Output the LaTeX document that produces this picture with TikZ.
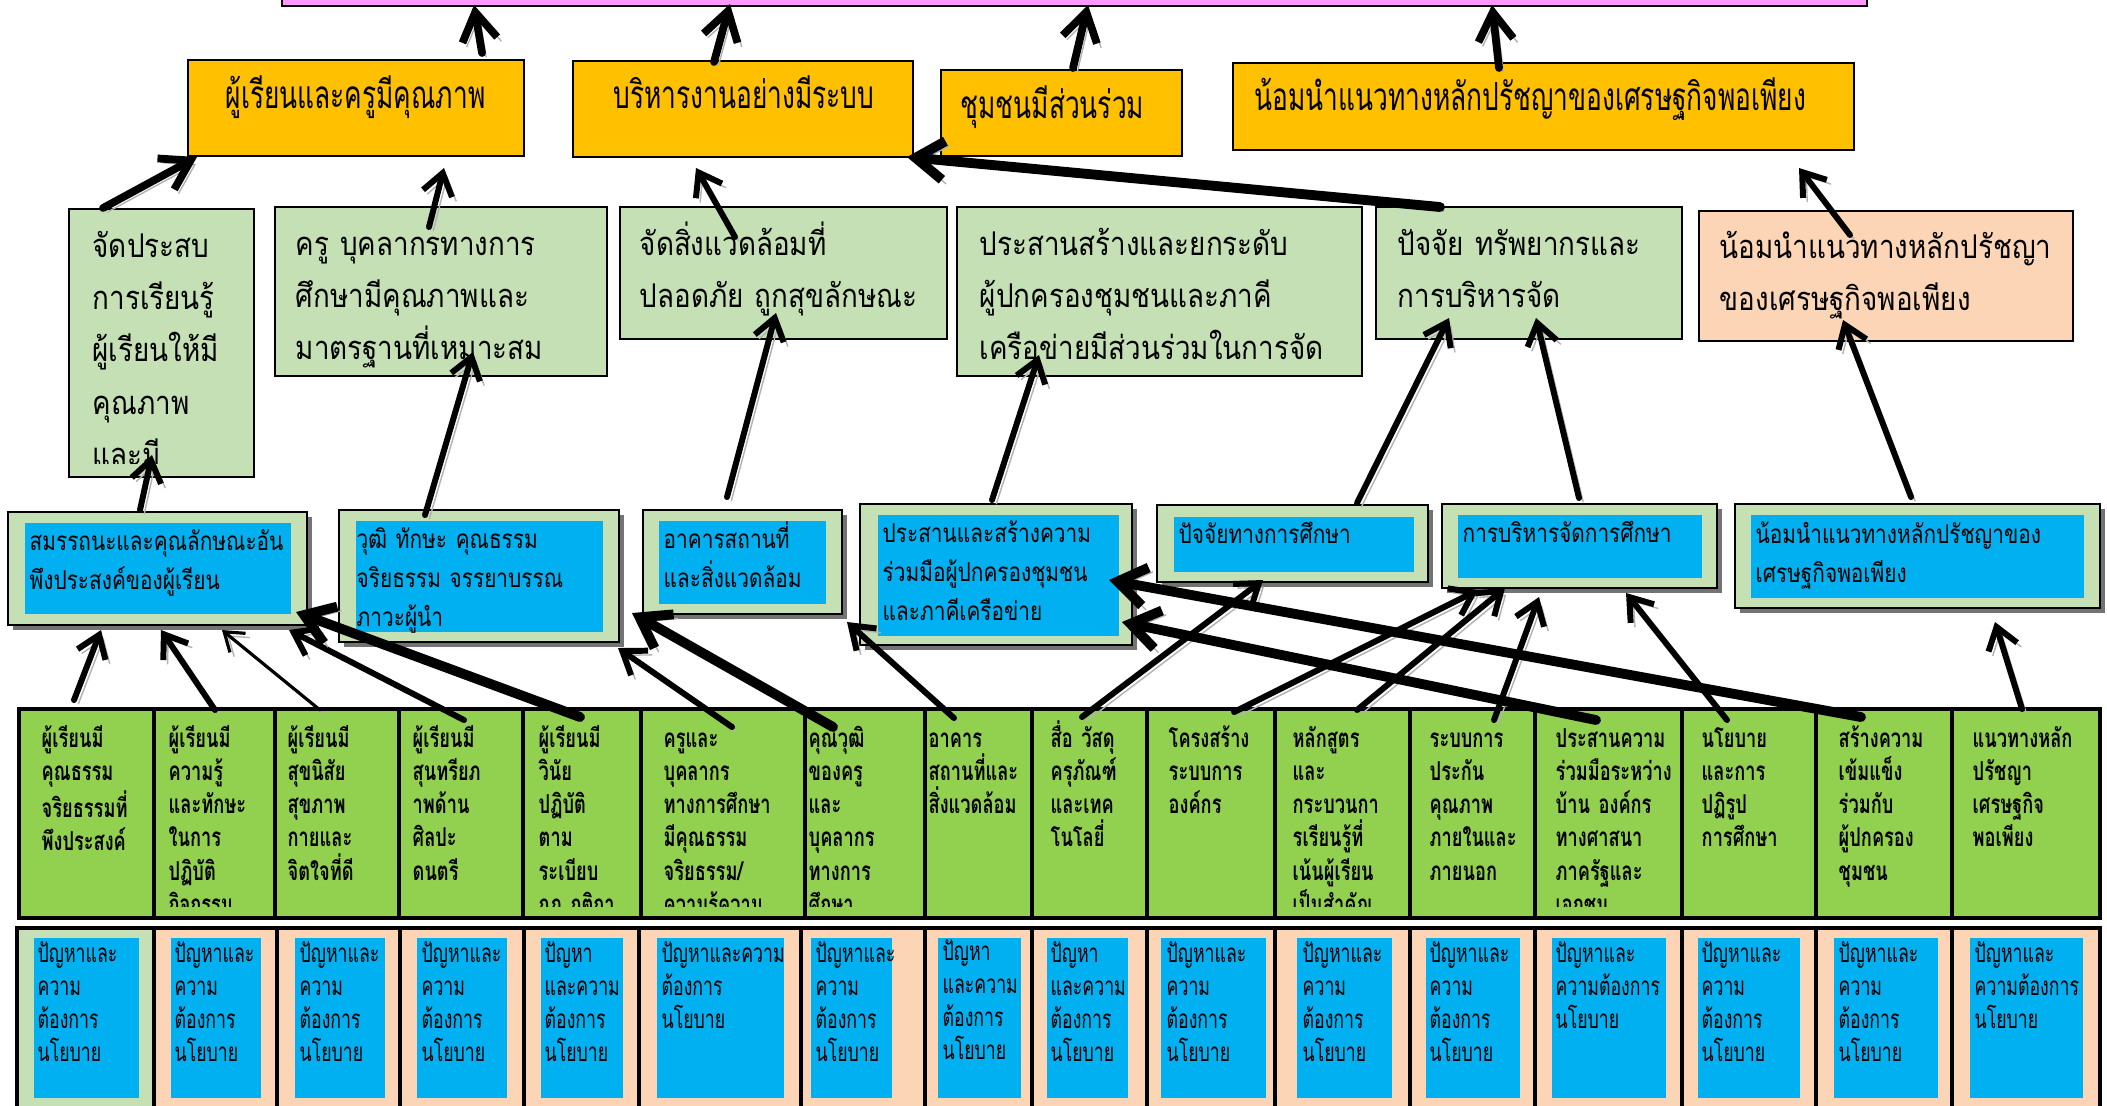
\documentclass[tikz,border=0pt]{standalone}
\usepackage{fontspec}
\newfontfamily\fntO[Script=Thai,FakeStretch=0.68]{Loma}
\newfontfamily\fntG[Script=Thai,FakeStretch=0.85]{Loma}
\newfontfamily\fntB[Script=Thai,FakeStretch=0.8]{Loma}
\newfontfamily\fntC[Script=Thai,FakeStretch=0.7]{Loma}
\newfontfamily\fntD[Script=Thai,FakeStretch=0.68]{Loma}
\usetikzlibrary{arrows.meta,calc,shadows}
\definecolor{pinkc}{HTML}{FF99FF}
\definecolor{orangec}{HTML}{FFC000}
\definecolor{lgreen}{HTML}{C5E0B4}
\definecolor{peach}{HTML}{FBD5B5}
\definecolor{bluec}{HTML}{00B0F0}
\definecolor{gcol}{HTML}{92D050}
\newcommand\bx[6]{\node[#1, anchor=north west, inner sep=0pt, outer sep=0pt, minimum width={(#5-#3)*0.01cm}, minimum height={(#6-#4)*0.01cm}] (#2) at (#3,#4) {};}
\tikzset{
  bxline/.style={draw=black, line width=0.7pt},
  obox/.style={bxline, fill=orangec},
  pkbox/.style={bxline, fill=pinkc},
  gbox/.style={bxline, fill=lgreen},
  pbox/.style={bxline, fill=peach},
  fbox/.style={bxline, fill=lgreen, line width=0.8pt, drop shadow={shadow xshift=1.5pt,shadow yshift=-1.5pt,fill=black,opacity=0.55}},
  ibox/.style={fill=bluec},
  colbox/.style={draw=black, line width=1pt, fill=gcol},
  rgbox/.style={draw=black, line width=1pt, fill=lgreen},
  rpbox/.style={draw=black, line width=1pt, fill=peach},
  txbase/.style={anchor=base west, inner sep=0pt, text width=7cm, align=left},
  txo/.style={txbase, font=\fntO\fontsize{11}{14}\selectfont},
  txg/.style={txbase, font=\fntG\fontsize{9.3}{14.9}\selectfont},
  txb/.style={txbase, font=\fntB\fontsize{7.4}{11.2}\selectfont},
  txc/.style={txbase, font=\fntC\bfseries\fontsize{7.4}{9.47}\selectfont},
  txd/.style={txbase, font=\fntD\fontsize{7.4}{9.47}\selectfont},
  shadowed/.style={line cap=round, preaction={draw=black!30, transform canvas={xshift=1.2pt,yshift=-1.2pt}}},
  conn/.style={shadowed, line width=1.7pt, -{Straight Barb[length=6pt,width=8.5pt]}},
  connbig/.style={shadowed, line width=2.2pt, -{Straight Barb[length=8pt,width=10pt]}},
  connthick/.style={shadowed, line width=2.8pt, -{Straight Barb[length=8pt,width=11pt]}},
  connthin/.style={shadowed, line width=0.9pt, -{Straight Barb[length=5pt,width=7pt]}},
}
\begin{document}
\begin{tikzpicture}[x=0.01cm,y=-0.01cm]
\useasboundingbox (0,0) rectangle (2107,1105);
\fill[white] (0,0) rectangle (2107,1105);

% top pink box
\bx{pkbox}{pk}{282}{-40}{1867}{6}
% orange row
\bx{obox}{o1}{188}{60}{524}{156}
\bx{obox}{o2}{573}{61}{913}{157}
\bx{obox}{o3}{941}{70}{1182}{156}
\bx{obox}{o4}{1233}{63}{1854}{150}
\node[txo] (to1) at (225,108) {ผู้เรียนและครูมีคุณภาพ};
\node[txo] (to2) at (613,108) {บริหารงานอย่างมีระบบ};
\node[txo] (to3) at (960,118) {ชุมชนมีส่วนร่วม};
\node[txo] (to4) at (1254,110) {น้อมนำแนวทางหลักปรัชญาของเศรษฐกิจพอเพียง};

% second row
\bx{gbox}{g1}{69}{209}{254}{477}
\bx{gbox}{g2}{275}{207}{607}{376}
\bx{gbox}{g3}{620}{207}{947}{339}
\bx{gbox}{g4}{957}{207}{1362}{376}
\bx{gbox}{g5}{1376}{207}{1682}{339}
\bx{pbox}{p1}{1699}{211}{2073}{341}
\begin{scope}
\clip (69,209) rectangle (254,463);
\node[txg] (tg1) at (92,257) {จัดประสบ\\การเรียนรู้\\ผู้เรียนให้มี\\คุณภาพ\\และมี};
\end{scope}
\node[txg] (tg2) at (295,255) {ครู บุคลากรทางการ\\ศึกษามีคุณภาพและ\\มาตรฐานที่เหมาะสม};
\node[txg] (tg3) at (639,255) {จัดสิ่งแวดล้อมที่\\ปลอดภัย ถูกสุขลักษณะ};
\node[txg] (tg4) at (979,255) {ประสานสร้างและยกระดับ\\ผู้ปกครองชุมชนและภาคี\\เครือข่ายมีส่วนร่วมในการจัด};
\node[txg] (tg5) at (1397,255) {ปัจจัย ทรัพยากรและ\\การบริหารจัด};
\node[txg] (tp1) at (1719,258) {น้อมนำแนวทางหลักปรัชญา\\ของเศรษฐกิจพอเพียง};

% third row
\bx{fbox}{b1}{8}{512}{307}{625}
\bx{ibox}{ib1}{25}{523}{291}{614}
\bx{fbox}{b2}{339}{510}{619}{642}
\bx{ibox}{ib2}{356}{521}{603}{632}
\bx{fbox}{b3}{643}{510}{842}{614}
\bx{ibox}{ib3}{659}{521}{826}{604}
\bx{fbox}{b4}{860}{504}{1132}{645}
\bx{ibox}{ib4}{878}{515}{1119}{636}
\bx{fbox}{b5}{1157}{505}{1428}{582}
\bx{ibox}{ib5}{1174}{517}{1414}{572}
\bx{fbox}{b6}{1442}{504}{1717}{588}
\bx{ibox}{ib6}{1458}{515}{1702}{578}
\bx{fbox}{b7}{1735}{504}{2100}{608}
\bx{ibox}{ib7}{1751}{515}{2084}{598}
\node[txb] (tb1) at (29,550) {สมรรถนะและคุณลักษณะอัน\\พึงประสงค์ของผู้เรียน};
\node[txb] (tb2) at (356,548) {วุฒิ ทักษะ คุณธรรม\\จริยธรรม จรรยาบรรณ\\ภาวะผู้นำ};
\node[txb] (tb3) at (663,548) {อาคารสถานที่\\และสิ่งแวดล้อม};
\node[txb] (tb4) at (882,542) {ประสานและสร้างความ\\ร่วมมือผู้ปกครองชุมชน\\และภาคีเครือข่าย};
\node[txb] (tb5) at (1178,543) {ปัจจัยทางการศึกษา};
\node[txb] (tb6) at (1462,542) {การบริหารจัดการศึกษา};
\node[txb] (tb7) at (1755,543) {น้อมนำแนวทางหลักปรัชญาของ\\เศรษฐกิจพอเพียง};

% fourth row: green columns
\foreach \i/\a/\b in {1/19/154,2/154/275,3/275/399,4/399/523,5/523/641,6/641/805,7/805/925,8/925/1032,9/1032/1147,10/1147/1275,11/1275/1410,12/1410/1535,13/1535/1682,14/1682/1816,15/1816/1952,16/1952/2100}
  {\bx{colbox}{c\i}{\a}{709}{\b}{918}}
\begin{scope}
\clip (19,709) rectangle (2100,906);
\node[txc] (tc1) at (41,747) {ผู้เรียนมี\\คุณธรรม\\จริยธรรมที่\\พึงประสงค์};
\node[txc] (tc2) at (168,747) {ผู้เรียนมี\\ความรู้\\และทักษะ\\ในการ\\ปฏิบัติ\\กิจกรรม};
\node[txc] (tc3) at (287,747) {ผู้เรียนมี\\สุขนิสัย\\สุขภาพ\\กายและ\\จิตใจที่ดี};
\node[txc] (tc4) at (412,747) {ผู้เรียนมี\\สุนทรียภ\\าพด้าน\\ศิลปะ\\ดนตรี};
\node[txc] (tc5) at (538,747) {ผู้เรียนมี\\วินัย\\ปฏิบัติ\\ตาม\\ระเบียบ\\กฎ กติกา};
\node[txc] (tc6) at (663,747) {ครูและ\\บุคลากร\\ทางการศึกษา\\มีคุณธรรม\\จริยธรรม/\\ความรู้ความ};
\node[txc] (tc7) at (808,747) {คุณวุฒิ\\ของครู\\และ\\บุคลากร\\ทางการ\\ศึกษา};
\node[txc] (tc8) at (928,747) {อาคาร\\สถานที่และ\\สิ่งแวดล้อม};
\node[txc] (tc9) at (1050,747) {สื่อ วัสดุ\\ครุภัณฑ์\\และเทค\\โนโลยี่};
\node[txc] (tc10) at (1168,747) {โครงสร้าง\\ระบบการ\\องค์กร};
\node[txc] (tc11) at (1292,747) {หลักสูตร\\และ\\กระบวนกา\\รเรียนรู้ที่\\เน้นผู้เรียน\\เป็นสำคัญ};
\node[txc] (tc12) at (1429,747) {ระบบการ\\ประกัน\\คุณภาพ\\ภายในและ\\ภายนอก};
\node[txc] (tc13) at (1555,747) {ประสานความ\\ร่วมมือระหว่าง\\บ้าน องค์กร\\ทางศาสนา\\ภาครัฐและ\\เอกชน};
\node[txc] (tc14) at (1701,747) {นโยบาย\\และการ\\ปฏิรูป\\การศึกษา};
\node[txc] (tc15) at (1838,747) {สร้างความ\\เข้มแข็ง\\ร่วมกับ\\ผู้ปกครอง\\ชุมชน};
\node[txc] (tc16) at (1972,747) {แนวทางหลัก\\ปรัชญา\\เศรษฐกิจ\\พอเพียง};
\end{scope}

% fifth row
\bx{rgbox}{r1}{17}{928}{154}{1125}
\foreach \i/\a/\b in {2/154/277,3/277/400,4/400/524,5/524/639,6/639/801,7/801/925,8/925/1032,9/1032/1147,10/1147/1275,11/1275/1410,12/1410/1535,13/1535/1682,14/1682/1816,15/1816/1952,16/1952/2100}
  {\bx{rpbox}{r\i}{\a}{928}{\b}{1125}}
\foreach \i/\a/\b in {1/34/139,2/171/261,3/295/385,4/417/507,5/541/623,6/657/784,7/811/892,8/938/1021,9/1047/1128,10/1161/1266,11/1297/1392,12/1426/1520,13/1552/1666,14/1698/1800,15/1834/1938,16/1970/2083}
  {\bx{ibox}{q\i}{\a}{938}{\b}{1098}}
\node[txd] (td1) at (37,962) {ปัญหาและ\\ความ\\ต้องการ\\นโยบาย};
\node[txd] (td2) at (174,962) {ปัญหาและ\\ความ\\ต้องการ\\นโยบาย};
\node[txd] (td3) at (299,962) {ปัญหาและ\\ความ\\ต้องการ\\นโยบาย};
\node[txd] (td4) at (421,962) {ปัญหาและ\\ความ\\ต้องการ\\นโยบาย};
\node[txd] (td5) at (544,962) {ปัญหา\\และความ\\ต้องการ\\นโยบาย};
\node[txd] (td6) at (661,962) {ปัญหาและความ\\ต้องการ\\นโยบาย};
\node[txd] (td7) at (815,962) {ปัญหาและ\\ความ\\ต้องการ\\นโยบาย};
\node[txd] (td8) at (942,960) {ปัญหา\\และความ\\ต้องการ\\นโยบาย};
\node[txd] (td9) at (1050,962) {ปัญหา\\และความ\\ต้องการ\\นโยบาย};
\node[txd] (td10) at (1166,962) {ปัญหาและ\\ความ\\ต้องการ\\นโยบาย};
\node[txd] (td11) at (1302,962) {ปัญหาและ\\ความ\\ต้องการ\\นโยบาย};
\node[txd] (td12) at (1429,962) {ปัญหาและ\\ความ\\ต้องการ\\นโยบาย};
\node[txd] (td13) at (1555,962) {ปัญหาและ\\ความต้องการ\\นโยบาย};
\node[txd] (td14) at (1701,962) {ปัญหาและ\\ความ\\ต้องการ\\นโยบาย};
\node[txd] (td15) at (1838,962) {ปัญหาและ\\ความ\\ต้องการ\\นโยบาย};
\node[txd] (td16) at (1974,962) {ปัญหาและ\\ความต้องการ\\นโยบาย};

% connectors: orange -> pink
\draw[connbig] ($(o1.north west)+(294,-7)$) -- ($(pk.south west)+(192,-1)$);
\draw[connbig] ($(o2.north west)+(141,1)$) -- ($(pk.south west)+(448,-2)$);
\draw[connbig] ($(o3.north west)+(132,-2)$) -- ($(pk.south west)+(806,-1)$);
\draw[connbig] ($(o4.north west)+(266,5)$) -- ($(pk.south west)+(1210,-1)$);
% second row -> orange
\draw[connbig] ($(g1.north west)+(34,-1)$) -- ($(o1.north west)+(9,97)$);
\draw[conn] ($(g2.north west)+(154,20)$) -- ($(o1.north west)+(256,108)$);
\draw[conn] ($(g3.north west)+(115,30)$) -- ($(o2.north west)+(123,107)$);
\draw[connthick] ($(g5.north west)+(64,0)$) -- ($(o2.north west)+(334,96)$);
\draw[conn] ($(p1.north west)+(151,24)$) -- ($(o4.north west)+(566,105)$);
% third row -> second row
\draw[conn] ($(b1.north west)+(132,-2)$) -- ($(g1.north west)+(83,246)$);
\draw[conn] ($(b2.north west)+(86,5)$) -- ($(g2.north west)+(198,145)$);
\draw[conn] ($(b3.north west)+(84,-13)$) -- ($(g3.north west)+(156,106)$);
\draw[conn] ($(b4.north west)+(132,-4)$) -- ($(g4.north west)+(82,148)$);
\draw[conn] ($(b5.north west)+(200,-2)$) -- ($(g5.north west)+(73,111)$);
\draw[conn] ($(b6.north west)+(137,-6)$) -- ($(g5.north west)+(160,111)$);
\draw[conn] ($(b7.north west)+(176,-7)$) -- ($(p1.north west)+(144,109)$);
% fourth row -> third row
\draw[conn] ($(c1.north west)+(55,-9)$) -- ($(b1.north west)+(93,118)$);
\draw[conn] ($(c2.north west)+(61,1)$) -- ($(b1.north west)+(153,118)$);
\draw[connthin] ($(c3.north west)+(45,1)$) -- ($(b1.north west)+(214,118)$);
\draw[conn] ($(c4.north west)+(65,11)$) -- ($(b1.north west)+(281,118)$);
\draw[connthick] ($(c5.north west)+(57,8)$) -- ($(b1.north west)+(288,100)$);
\draw[conn] ($(c6.north west)+(91,18)$) -- ($(b2.north west)+(279,138)$);
\draw[connthick] ($(c7.north west)+(28,18)$) -- ($(b2.north west)+(293,103)$);
\draw[conn] ($(c8.north west)+(29,9)$) -- ($(b3.north west)+(204,112)$);
\draw[conn] ($(c9.north west)+(50,8)$) -- ($(b5.north west)+(106,75)$);
\draw[conn] ($(c10.north west)+(87,3)$) -- ($(b6.north west)+(36,86)$);
\draw[conn] ($(c11.north west)+(82,1)$) -- ($(b6.north west)+(63,84)$);
\draw[conn] ($(c12.north west)+(84,11)$) -- ($(b6.north west)+(97,93)$);
\draw[connthick] ($(c13.north west)+(61,11)$) -- ($(b4.north west)+(262,118)$);
\draw[conn] ($(c14.north west)+(45,11)$) -- ($(b6.north west)+(184,89)$);
\draw[connthick] ($(c15.north west)+(45,8)$) -- ($(b4.north west)+(249,76)$);
\draw[conn] ($(c16.north west)+(70,0)$) -- ($(b7.north west)+(260,118)$);
\end{tikzpicture}
\end{document}
